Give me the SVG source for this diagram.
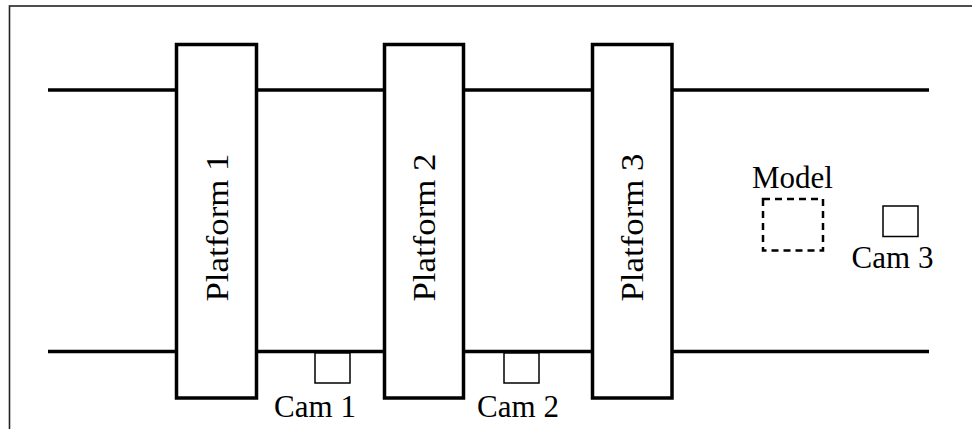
<svg xmlns="http://www.w3.org/2000/svg" width="972" height="429" viewBox="0 0 972 429">
<style>
.rail{stroke:#000;stroke-width:3.5;fill:none}
.plat{fill:#fff;stroke:#000;stroke-width:3.5}
.cam{fill:#fff;stroke:#000;stroke-width:1.5}
.model{fill:none;stroke:#000;stroke-width:2.5;stroke-dasharray:7 5}
text{font-family:"Liberation Serif","Times New Roman",serif;font-size:31px;fill:#000}
.pl{font-size:32px}
</style>
<rect width="972" height="429" fill="#fff"/>
<rect x="9.5" y="6" width="980" height="440" fill="none" stroke="#222" stroke-width="1.6"/>
<g id="connectors">
<line class="rail" x1="48" y1="90" x2="929" y2="90"/>
<line class="rail" x1="48" y1="351.5" x2="929" y2="351.5"/>
</g>
<g id="platform1">
<rect class="plat" x="176.5" y="44.5" width="80" height="353.5"/>
<text class="pl" transform="translate(227.5,227.5) rotate(-90)" text-anchor="middle" textLength="148" lengthAdjust="spacingAndGlyphs">Platform 1</text>
</g>
<g id="platform2">
<rect class="plat" x="384.5" y="44.5" width="79" height="353.5"/>
<text class="pl" transform="translate(435,227.5) rotate(-90)" text-anchor="middle" textLength="148" lengthAdjust="spacingAndGlyphs">Platform 2</text>
</g>
<g id="platform3">
<rect class="plat" x="592.5" y="44.5" width="79.5" height="353.5"/>
<text class="pl" transform="translate(643,227.5) rotate(-90)" text-anchor="middle" textLength="148" lengthAdjust="spacingAndGlyphs">Platform 3</text>
</g>
<g id="cam1">
<rect class="cam" x="315" y="353" width="35" height="30"/>
<text x="315" y="416.5" text-anchor="middle">Cam 1</text>
</g>
<g id="cam2">
<rect class="cam" x="504" y="353" width="35" height="30"/>
<text x="518" y="416.5" text-anchor="middle">Cam 2</text>
</g>
<g id="model">
<rect class="model" x="763" y="199" width="60" height="51.5"/>
<text x="792.5" y="188" text-anchor="middle">Model</text>
</g>
<g id="cam3">
<rect class="cam" x="883" y="206" width="35" height="30.5"/>
<text x="892.5" y="268" text-anchor="middle">Cam 3</text>
</g>
</svg>
